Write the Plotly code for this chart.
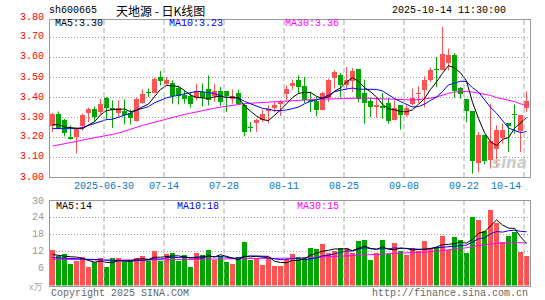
import plotly.graph_objects as go

# ---------------- data ----------------
dates = [
 "2025-06-17","2025-06-18","2025-06-19","2025-06-20","2025-06-23","2025-06-24","2025-06-25","2025-06-26","2025-06-27","2025-06-30",
 "2025-07-01","2025-07-02","2025-07-03","2025-07-04","2025-07-07","2025-07-08","2025-07-09","2025-07-10","2025-07-11","2025-07-14",
 "2025-07-15","2025-07-16","2025-07-17","2025-07-18","2025-07-21","2025-07-22","2025-07-23","2025-07-24","2025-07-25","2025-07-28",
 "2025-07-29","2025-07-30","2025-07-31","2025-08-01","2025-08-04","2025-08-05","2025-08-06","2025-08-07","2025-08-08","2025-08-11",
 "2025-08-12","2025-08-13","2025-08-14","2025-08-15","2025-08-18","2025-08-19","2025-08-20","2025-08-21","2025-08-22","2025-08-25",
 "2025-08-26","2025-08-27","2025-08-28","2025-08-29","2025-09-01","2025-09-02","2025-09-03","2025-09-04","2025-09-05","2025-09-08",
 "2025-09-09","2025-09-10","2025-09-11","2025-09-12","2025-09-15","2025-09-16","2025-09-17","2025-09-18","2025-09-19","2025-09-22",
 "2025-09-23","2025-09-24","2025-09-25","2025-09-26","2025-09-29","2025-09-30","2025-10-09","2025-10-10","2025-10-13","2025-10-14"]

opens = [3.253,3.317,3.283,3.200,3.200,3.257,3.320,3.342,3.323,3.397,
 3.347,3.320,3.330,3.320,3.280,3.370,3.422,3.420,3.500,3.467,
 3.472,3.445,3.408,3.403,3.397,3.425,3.438,3.403,3.430,3.430,
 3.390,3.420,3.358,3.248,3.270,3.283,3.330,3.347,3.363,3.413,
 3.453,3.487,3.455,3.387,3.380,3.337,3.397,3.497,3.508,3.460,
 3.480,3.538,3.420,3.378,3.350,3.353,3.370,3.287,3.358,3.308,
 3.367,3.413,3.433,3.487,3.538,3.537,3.570,3.608,3.447,3.388,
 3.328,3.070,3.208,3.083,3.142,3.197,3.270,3.315,3.230,3.347]
highs = [3.320,3.328,3.290,3.258,3.247,3.317,3.347,3.353,3.390,3.400,
 3.383,3.383,3.388,3.337,3.397,3.438,3.442,3.497,3.530,3.500,
 3.483,3.453,3.433,3.420,3.467,3.467,3.508,3.467,3.450,3.430,
 3.437,3.437,3.367,3.275,3.292,3.337,3.358,3.375,3.383,3.458,
 3.487,3.508,3.500,3.425,3.400,3.425,3.492,3.533,3.520,3.550,
 3.545,3.538,3.487,3.397,3.397,3.420,3.397,3.383,3.358,3.358,
 3.442,3.453,3.503,3.547,3.600,3.750,3.642,3.620,3.450,3.388,
 3.328,3.225,3.208,3.367,3.258,3.267,3.270,3.363,3.308,3.428]
lows = [3.225,3.240,3.203,3.187,3.117,3.233,3.275,3.275,3.312,3.288,
 3.245,3.303,3.263,3.263,3.277,3.367,3.400,3.420,3.458,3.458,
 3.367,3.363,3.367,3.347,3.383,3.353,3.358,3.375,3.355,3.325,
 3.367,3.367,3.203,3.225,3.225,3.275,3.267,3.325,3.305,3.383,
 3.437,3.417,3.370,3.325,3.303,3.333,3.375,3.442,3.397,3.440,
 3.425,3.375,3.267,3.300,3.297,3.292,3.267,3.283,3.237,3.300,
 3.358,3.370,3.347,3.475,3.450,3.533,3.533,3.397,3.392,3.275,
 3.017,3.025,3.063,3.042,3.050,3.167,3.125,3.217,3.125,3.325]
closes = [3.317,3.245,3.220,3.190,3.240,3.308,3.340,3.300,3.367,3.347,
 3.333,3.347,3.308,3.297,3.390,3.413,3.418,3.490,3.480,3.487,
 3.403,3.403,3.388,3.367,3.428,3.397,3.383,3.430,3.375,3.403,
 3.403,3.367,3.225,3.245,3.283,3.317,3.342,3.358,3.375,3.438,
 3.470,3.450,3.383,3.375,3.337,3.420,3.487,3.525,3.458,3.487,
 3.530,3.392,3.370,3.350,3.358,3.347,3.280,3.347,3.308,3.347,
 3.397,3.420,3.487,3.537,3.533,3.617,3.612,3.428,3.413,3.330,
 3.080,3.208,3.080,3.180,3.237,3.237,3.253,3.310,3.308,3.378]

ma5 = [3.262,3.262,3.250,3.247,3.242,3.241,3.260,3.276,3.311,3.332,
 3.337,3.339,3.340,3.326,3.335,3.351,3.365,3.402,3.438,3.458,
 3.456,3.453,3.432,3.410,3.398,3.397,3.393,3.401,3.403,3.398,
 3.399,3.396,3.355,3.329,3.305,3.287,3.282,3.309,3.335,3.366,
 3.397,3.418,3.423,3.423,3.403,3.393,3.400,3.429,3.445,3.475,
 3.497,3.478,3.447,3.426,3.400,3.363,3.341,3.336,3.328,3.326,
 3.336,3.364,3.392,3.438,3.475,3.519,3.557,3.545,3.521,3.480,
 3.373,3.292,3.222,3.176,3.157,3.188,3.197,3.243,3.269,3.297]
ma10 = [3.242,3.242,3.242,3.243,3.242,3.248,3.258,3.265,3.275,3.287,
 3.289,3.299,3.308,3.319,3.334,3.344,3.352,3.371,3.382,3.396,
 3.403,3.409,3.417,3.424,3.428,3.426,3.423,3.417,3.406,3.398,
 3.398,3.394,3.378,3.366,3.351,3.343,3.339,3.332,3.332,3.335,
 3.342,3.350,3.366,3.379,3.385,3.395,3.409,3.426,3.434,3.439,
 3.445,3.439,3.438,3.436,3.438,3.430,3.410,3.392,3.377,3.363,
 3.350,3.352,3.364,3.383,3.400,3.427,3.461,3.469,3.479,3.477,
 3.446,3.425,3.384,3.348,3.319,3.281,3.245,3.233,3.222,3.227]
ma30 = [3.155,3.160,3.165,3.172,3.178,3.185,3.190,3.197,3.200,3.208,
 3.213,3.220,3.230,3.240,3.250,3.258,3.266,3.274,3.283,3.292,
 3.300,3.306,3.313,3.319,3.326,3.332,3.338,3.344,3.349,3.354,
 3.359,3.363,3.367,3.369,3.371,3.372,3.373,3.375,3.377,3.380,
 3.382,3.384,3.386,3.387,3.388,3.389,3.390,3.392,3.394,3.395,
 3.396,3.396,3.395,3.393,3.392,3.390,3.388,3.387,3.385,3.384,
 3.385,3.387,3.390,3.395,3.400,3.410,3.418,3.425,3.428,3.428,
 3.425,3.420,3.413,3.408,3.397,3.390,3.384,3.377,3.366,3.358]

volumes = [12.6,10.3,11.1,7.7,8.8,10.0,6.4,8.4,9.7,6.6,
 9.6,9.9,8.4,9.1,9.8,10.3,8.8,12.4,8.8,11.1,
 11.5,8.8,10.7,6.6,11.5,11.0,12.6,9.1,10.5,8.2,
 7.8,10.1,15.6,9.1,9.7,7.3,10.0,6.9,6.9,9.5,
 11.2,10.0,10.0,13.2,12.9,14.7,11.7,12.4,13.2,13.2,
 11.5,15.8,16.2,9.1,11.5,16.2,11.3,15.2,12.3,10.9,
 13.2,12.3,15.8,13.2,13.8,17.6,12.6,17.1,16.2,11.7,
 24.4,23.3,19.5,26.8,22.3,15.6,17.6,19.1,12.0,10.3]
vol_ma5 = [11.0,10.6,10.4,10.2,10.1,9.58,8.80,8.26,8.66,8.22,
 8.14,8.84,8.84,8.72,9.36,9.50,9.28,10.08,10.02,10.28,
 10.52,10.52,10.18,9.74,9.82,9.72,10.48,10.16,10.94,10.28,
 9.64,9.14,10.44,10.16,10.46,10.36,10.34,8.60,8.16,8.12,
 8.90,8.90,9.52,10.78,11.46,12.16,12.50,12.98,12.98,13.04,
 12.40,13.22,13.98,13.16,12.82,13.76,12.86,12.66,13.30,13.18,
 12.58,12.78,12.90,13.08,13.66,14.54,14.60,14.86,15.46,15.04,
 16.40,18.54,19.02,21.14,23.26,21.50,20.36,20.28,17.32,14.92]
vol_ma10 = [9.9,9.8,9.7,9.6,9.5,9.4,9.3,9.3,9.2,9.16,
 8.86,8.82,8.55,8.69,8.79,8.82,9.06,9.46,9.37,9.82,
 10.01,9.90,10.13,9.88,10.05,10.12,10.50,10.17,10.34,10.05,
 9.68,9.81,10.30,10.55,10.37,10.00,9.74,9.52,9.16,9.29,
 9.63,9.62,9.06,9.47,9.79,10.53,10.70,11.25,11.88,12.25,
 12.28,12.86,13.48,13.07,12.93,13.08,13.04,13.32,13.23,13.00,
 13.17,12.82,12.78,13.19,13.42,13.56,13.69,13.88,14.27,14.35,
 15.47,16.57,16.94,18.30,19.15,18.95,19.45,19.65,19.23,19.09]
vol_ma30 = [9.3,9.3,9.2,9.2,9.2,9.1,9.1,9.1,9.1,9.0,
 9.0,9.0,9.0,9.0,9.0,9.0,9.0,9.1,9.1,9.1,
 9.2,9.2,9.2,9.2,9.3,9.3,9.4,9.4,9.4,9.5,
 9.5,9.5,9.6,9.6,9.6,9.6,9.6,9.6,9.5,9.5,
 9.6,9.7,9.8,9.9,10.0,10.1,10.2,10.3,10.4,10.5,
 10.7,10.8,11.0,11.0,11.1,11.2,11.3,11.4,11.5,11.5,
 11.6,11.7,11.8,11.9,12.1,12.4,12.6,12.9,13.2,13.4,
 13.9,14.2,14.5,14.8,15.0,15.1,15.2,15.2,15.2,15.1]

price_ticks = [3.00, 3.10, 3.20, 3.30, 3.40, 3.50, 3.60, 3.70, 3.80]
vol_ticks = [6, 12, 18, 24, 30]
date_marks = ["2025-06-30", "2025-07-14", "2025-07-28", "2025-08-11",
              "2025-08-25", "2025-09-08", "2025-09-22", "2025-10-14"]

title_code = "sh600665"
title_name = "天地源 - 日K线图"
title_time = "2025-10-14 11:30:00"
price_legend = ["MA5:3.30", "MA10:3.23", "MA30:3.36"]
vol_legend = ["MA5:14", "MA10:18", "MA30:15"]

# ---------------- styling ----------------
W, H = 545, 300
ML, MR = 50, 15
RED = "#FF5353"
GREEN = "#00A600"
GRID = "#A0A0A0"
BORDER = "#999999"
MONO = "Liberation Mono, DejaVu Sans Mono, monospace"
PLOT_W = W - ML - MR

P_LO, P_HI = 3.00, 3.7875
V_LO, V_HI = 0, 30
P_TOP, P_BOT = 19.5, 177.0
V_TOP, V_BOT = 201.0, 285.5


def py(yabs):
    return 1 - yabs / H


def px(xabs):
    return (xabs - ML) / PLOT_W


n = len(dates)
idx = list(range(n))
XR = [-0.42, n - 0.42]

up = [c >= o for o, c in zip(opens, closes)]
bar_colors = [RED if u else GREEN for u in up]
body_base = [min(o, c) for o, c in zip(opens, closes)]
body_h = [max(abs(c - o), 0.005) for o, c in zip(opens, closes)]

fig = go.Figure()

# wicks
for col, flag in ((RED, True), (GREEN, False)):
    wx, wy = [], []
    for i in idx:
        if up[i] == flag:
            wx += [i, i, None]
            wy += [lows[i], highs[i], None]
    fig.add_trace(go.Scatter(x=wx, y=wy, mode="lines", line=dict(color=col, width=1),
                             xaxis="x", yaxis="y", hoverinfo="skip", showlegend=False))

# bodies
fig.add_trace(go.Bar(x=idx, y=body_h, base=body_base, width=0.83,
                     marker=dict(color=bar_colors, line=dict(width=0)),
                     xaxis="x", yaxis="y", showlegend=False))

for arr, col in ((ma30, "#FF00FF"), (ma10, "#0000FF"), (ma5, "#000000")):
    fig.add_trace(go.Scatter(x=idx, y=arr, mode="lines", line=dict(color=col, width=1),
                             xaxis="x", yaxis="y", showlegend=False))

# volume
fig.add_trace(go.Bar(x=idx, y=volumes, width=0.83,
                     marker=dict(color=bar_colors, line=dict(width=0)),
                     xaxis="x2", yaxis="y2", showlegend=False))
for arr, col in ((vol_ma30, "#FF00FF"), (vol_ma10, "#0000FF"), (vol_ma5, "#000000")):
    fig.add_trace(go.Scatter(x=idx, y=arr, mode="lines", line=dict(color=col, width=1),
                             xaxis="x2", yaxis="y2", showlegend=False))

ax_common = dict(showline=True, mirror=True, linecolor=BORDER, linewidth=1,
                 zeroline=False, ticks="", showticklabels=False, fixedrange=True)

fig.update_layout(
    width=W, height=H,
    margin=dict(l=ML, r=MR, t=0, b=0),
    paper_bgcolor="white", plot_bgcolor="white",
    bargap=0, barmode="overlay",
    xaxis=dict(domain=[0, 1], range=XR, anchor="y", showgrid=False, **ax_common),
    xaxis2=dict(domain=[0, 1], range=XR, anchor="y2", showgrid=False, **ax_common),
    yaxis=dict(domain=[py(P_BOT), py(P_TOP)], range=[P_LO, P_HI], anchor="x",
               tickvals=price_ticks[1:-1], showgrid=True, gridcolor=GRID,
               griddash="1px,2px", gridwidth=1, **ax_common),
    yaxis2=dict(domain=[py(V_BOT), py(V_TOP)], range=[V_LO, V_HI], anchor="x2",
                tickvals=vol_ticks[:-1], showgrid=True, gridcolor=GRID,
                griddash="1px,2px", gridwidth=1, **ax_common),
    showlegend=False,
)

shapes = []
annotations = []

# vertical dashed date grid lines + labels
for k, d in enumerate(date_marks):
    i = dates.index(d)
    xg = i - 0.42
    for xr, yr in (("x", "y domain"), ("x2", "y2 domain")):
        shapes.append(dict(type="line", xref=xr, yref=yr, x0=xg, x1=xg, y0=0, y1=1,
                           line=dict(color="#AAAAAA", width=1, dash="5px,3px"), layer="above"))
    label = d if k == 0 else d[5:]
    last = k == len(date_marks) - 1
    annotations.append(dict(xref="x", yref="paper", x=xg + (-0.1 if last else 0), y=py(186),
                            text=label, showarrow=False, xanchor="right" if last else "center",
                            yanchor="middle", font=dict(family=MONO, size=10, color="#0A78C8")))

# price labels
for v in price_ticks:
    annotations.append(dict(xref="paper", yref="y domain", x=px(46),
                            y=(v - P_LO) / (P_HI - P_LO), text=f"{v:.2f}", showarrow=False,
                            xanchor="right", yanchor="middle",
                            font=dict(family=MONO, size=10, color="#FF0000")))
# volume labels
for v in vol_ticks:
    annotations.append(dict(xref="paper", yref="y2 domain", x=px(46),
                            y=(v - V_LO) / (V_HI - V_LO), text=str(v), showarrow=False,
                            xanchor="right", yanchor="middle",
                            font=dict(family=MONO, size=10, color="#999999")))
annotations.append(dict(xref="paper", yref="paper", x=px(44), y=py(286), text="x万",
                        showarrow=False, xanchor="right", yanchor="middle",
                        font=dict(family="Noto Sans CJK SC", size=9, color="#AAAAAA")))

# title row
annotations.append(dict(xref="paper", yref="paper", x=px(47), y=py(11), text=title_code,
                        showarrow=False, xanchor="left", yanchor="middle",
                        font=dict(family=MONO, size=10, color="#000000")))
annotations.append(dict(xref="paper", yref="paper", x=px(114), y=py(11), text=title_name,
                        showarrow=False, xanchor="left", yanchor="middle",
                        font=dict(family="Noto Sans CJK SC", size=12, color="#000000")))
annotations.append(dict(xref="paper", yref="paper", x=px(508), y=py(11), text=title_time,
                        showarrow=False, xanchor="right", yanchor="middle",
                        font=dict(family=MONO, size=10, color="#000000")))

# MA legends
for txt, xl, col in zip(price_legend, (53, 167, 283), ("#000000", "#0000FF", "#FF00FF")):
    annotations.append(dict(xref="paper", yref="paper", x=px(xl), y=py(24), text=txt,
                            showarrow=False, xanchor="left", yanchor="middle",
                            font=dict(family=MONO, size=10, color=col)))
for txt, xl, col in zip(vol_legend, (54, 175, 295), ("#000000", "#0000FF", "#FF00FF")):
    annotations.append(dict(xref="paper", yref="paper", x=px(xl), y=py(207), text=txt,
                            showarrow=False, xanchor="left", yanchor="middle",
                            font=dict(family=MONO, size=10, color=col)))

# watermark + footer
annotations.append(dict(xref="paper", yref="paper", x=px(529), y=py(163), text="<b><i>sina</i></b>",
                        showarrow=False, xanchor="right", yanchor="middle",
                        font=dict(family="DejaVu Sans", size=15, color="#CCCCCC")))
annotations.append(dict(xref="paper", yref="paper", x=px(49), y=py(293),
                        text="Copyright 2025 SINA.COM", showarrow=False, xanchor="left",
                        yanchor="middle", font=dict(family=MONO, size=10, color="#666666")))
annotations.append(dict(xref="paper", yref="paper", x=px(530), y=py(293),
                        text="http://finance.sina.com.cn", showarrow=False, xanchor="right",
                        yanchor="middle", font=dict(family=MONO, size=10, color="#666666")))

fig.update_layout(shapes=shapes, annotations=annotations)

fig.write_html("out.html", config={"displayModeBar": False, "staticPlot": True})
